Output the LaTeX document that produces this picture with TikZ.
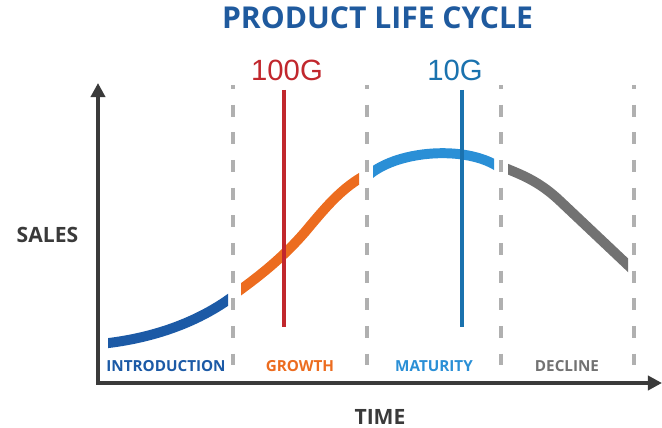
\documentclass[tikz,border=0pt]{standalone}
\usepackage{fontspec}
\setmainfont{Open Sans}
\newfontfamily\gigfont{Liberation Sans}
\usetikzlibrary{arrows.meta,positioning}

\definecolor{titleblue}{HTML}{1F5A9E}
\definecolor{introblue}{HTML}{1C5AA6}
\definecolor{growthorange}{HTML}{EC6C1F}
\definecolor{maturityblue}{HTML}{2A8FD6}
\definecolor{declinegray}{HTML}{727272}
\definecolor{axisgray}{HTML}{3A3A3A}
\definecolor{dashgray}{HTML}{B0B0B0}
\definecolor{hundredred}{HTML}{C1272D}
\definecolor{tenblue}{HTML}{1A72AE}

\begin{document}
\begin{tikzpicture}[
  x=0.03cm, y=-0.03cm,
  axis/.style={line width=3pt,draw=axisgray,-{Triangle[length=12pt,width=12pt]}},
  divider/.style={line width=3pt,draw=dashgray,dash pattern=on 10.2pt off 13.4pt,dash phase=6.8pt},
  phase/.style={line width=8.5pt,draw=#1},
  stage/.style={font=\bfseries\fontsize{13}{15}\selectfont,text=#1},
  speed/.style={font=\gigfont\fontsize{25}{28}\selectfont,text=#1},
  marker/.style={line width=2.8pt,draw=#1},
  axisname/.style={font=\bfseries\fontsize{18}{20}\selectfont,text=axisgray}
]
\useasboundingbox (0,0) rectangle (662,428);

% ---------- title and axis names
\node[font=\bfseries\fontsize{25.7}{30}\selectfont,text=titleblue] (title) at (377.5,18) {PRODUCT LIFE CYCLE};
\node[axisname] (sales) at (47.5,234.5) {SALES};
\node[axisname] (time) at (380,417) {TIME};

% ---------- stage dividers
\foreach \x [count=\i] in {233,367,501,634}{
  \coordinate (top\i) at (\x,85);
  \coordinate (bot\i) at (\x,383);
  \draw[divider] (top\i) -- (bot\i);
}

% ---------- axes
\coordinate (origin) at (98,383);
\coordinate (ytip) at (98,83);
\coordinate (xtip) at (662,383);
\draw[axis] (origin) -- (ytip);
\draw[axis] ([xshift=-1.5pt]origin) -- (xtip);

% ---------- the sales curve, one piece per stage
\begin{scope}
  \clip (108,0) rectangle (228,428);
  \draw[phase=introblue] (100,344) .. controls (160,338) and (205,318) .. (236,294);
\end{scope}
\begin{scope}
  \clip (241,0) rectangle (359,428);
  \draw[phase=growthorange] (236,293) .. controls (265,272) and (285,255) .. (305,232)
                                      .. controls (325,208) and (340,190) .. (362,177);
\end{scope}
\begin{scope}
  \clip (373,0) rectangle (494,428);
  \draw[phase=maturityblue] (370,174) .. controls (400,150) and (465,146) .. (497,166);
\end{scope}
\begin{scope}
  \clip (508,0) rectangle (628,428);
  \draw[phase=declinegray] (505,168) .. controls (525,176) and (541,183) .. (560,201) -- (632,269);
\end{scope}

% ---------- stage names
\foreach \x/\t/\c in {166/INTRODUCTION/introblue, 300/GROWTH/growthorange,
                      434/MATURITY/maturityblue, 567/DECLINE/declinegray}{
  \node[stage=\c] (\t) at (\x,366) {\t};
}

% ---------- link speed markers
\node[speed=hundredred] (g100) at (287,70) {100G};
\node[speed=tenblue] (g10) at (455,70) {10G};
\coordinate (g100top) at (284,90);
\coordinate (g100bot) at (284,327);
\coordinate (g10top) at (462,90);
\coordinate (g10bot) at (462,327);
\draw[marker=hundredred] (g100top) -- (g100bot);
\draw[marker=tenblue] (g10top) -- (g10bot);
\end{tikzpicture}
\end{document}
